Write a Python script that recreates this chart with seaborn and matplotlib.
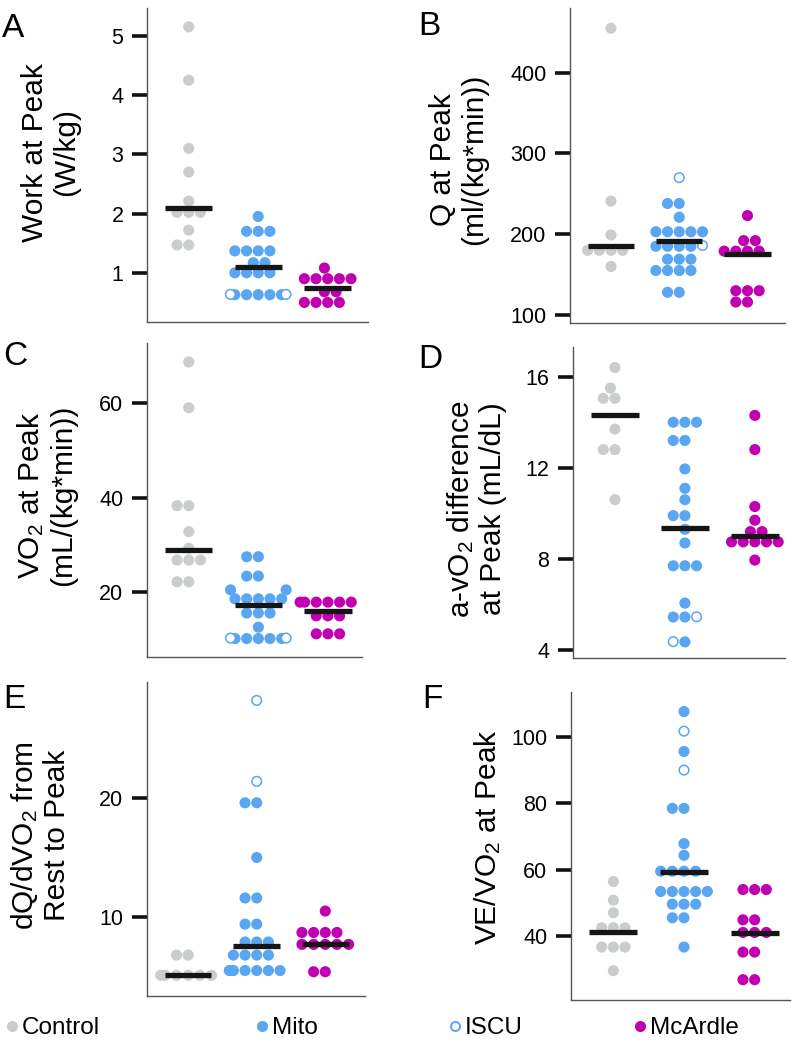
import matplotlib
matplotlib.use("Agg")
import matplotlib.pyplot as plt
import numpy as np
import pandas as pd
import seaborn as sns
from matplotlib.colors import to_rgba
from matplotlib.lines import Line2D

GROUPS = ["Control", "Mito", "McArdle"]
STATUS = ["Control", "Mito", "ISCU", "McArdle"]
PALETTE = {"Control": "#c9cecb", "Mito": "#5aa6f2",
           "ISCU": "#ffffff", "McArdle": "#c100b2"}

# A: work at peak (W/kg)
work_control = [5.15, 4.25, 3.1, 2.7, 2.21, 2.02, 2.02, 2.02, 1.72, 1.47, 1.47]
work_mito = [1.95, 1.7, 1.7, 1.7, 1.37, 1.37, 1.37, 1.37, 1.17, 1.17,
             1.0, 1.0, 1.0, 1.0, 0.63, 0.63, 0.63, 0.63, 0.63]
work_iscu = [0.635, 0.635]
work_mcardle = [1.08, 0.9, 0.9, 0.9, 0.9, 0.9, 0.68, 0.68, 0.5, 0.5, 0.5, 0.5]
work_medians = [2.1, 1.1, 0.75]

# B: cardiac output at peak
q_control = [455, 241, 199, 180, 180, 180, 180, 160]
q_mito = [238, 238, 221, 203, 203, 203, 203, 203, 185, 185, 185, 185,
          169, 169, 169, 155, 155, 155, 155, 128, 128]
q_iscu = [270, 186]
q_mcardle = [223, 192, 192, 179, 179, 179, 179, 130, 130, 130, 116, 116]
q_medians = [185, 191, 175]

# C: VO2 at peak
vo2_control = [68.7, 59, 38.3, 38.3, 32.8, 29.3, 26.8, 26.8, 26.8, 22.2, 22.2]
vo2_mito = [27.5, 27.5, 23.4, 23.4, 20.5, 20.5, 18.6, 18.6, 18.6, 18.6, 18.6,
            15.6, 15.6, 15.6, 12.6, 10.2, 10.2, 10.2, 10.2, 10.2]
vo2_iscu = [10.3, 10.3]
vo2_mcardle = [17.9, 17.9, 17.9, 17.9, 17.9, 17.9, 15.0, 15.0, 15.0,
               11.2, 11.2, 11.2]
vo2_medians = [29, 17.3, 16.1]

# D: a-vO2 difference at peak
avo2_control = [16.4, 15.5, 15.05, 15.05, 13.7, 12.8, 12.8, 10.6]
avo2_mito = [14.0, 14.0, 14.0, 13.2, 13.2, 11.95, 11.1, 10.6, 9.9, 9.9, 9.3,
             8.7, 7.7, 7.7, 7.7, 6.06, 5.45, 5.45, 4.36]
avo2_iscu = [5.46, 4.37]
avo2_mcardle = [14.3, 12.8, 10.3, 9.7, 9.2, 9.2, 8.75, 8.75, 8.75, 8.75,
                8.75, 7.95]
avo2_medians = [14.3, 9.36, 9.0]

# E: dQ/dVO2 from rest to peak
dq_control = [6.8, 6.8, 5.1, 5.1, 5.1, 5.1, 5.1, 5.1]
dq_mito = [19.6, 19.6, 15.0, 11.6, 11.6, 9.4, 9.4, 7.9, 7.9, 7.9,
           6.8, 6.8, 6.8, 6.8, 5.5, 5.5, 5.5, 5.5, 5.5, 5.5]
dq_iscu = [28.2, 21.4]
dq_mcardle = [10.5, 8.7, 8.7, 8.7, 8.7, 7.7, 7.7, 7.7, 7.7, 7.7, 5.4, 5.4]
dq_medians = [5.1, 7.6, 7.7]

# F: VE/VO2 at peak
ve_control = [56.5, 50.9, 47.1, 42.6, 42.6, 42.6, 36.8, 36.8, 36.8, 29.7]
ve_mito = [107.6, 95.6, 78.5, 78.5, 67.9, 64.4, 59.6, 59.6, 59.6, 59.6,
           53.5, 53.5, 53.5, 53.5, 53.5, 49.7, 49.7, 49.7, 45.6, 45.6, 36.8]
ve_iscu = [101.7, 90]
ve_mcardle = [54.1, 54.1, 54.1, 45, 45, 41.2, 41.2, 41.2, 35.3, 35.3, 27, 27]
ve_medians = [41.2, 59.4, 40.9]

PANELS = [
    ("A", (work_control, work_mito, work_iscu, work_mcardle), work_medians,
     "Work at Peak\n(W/kg)", [1, 2, 3, 4, 5], (0.17, 5.47)),
    ("B", (q_control, q_mito, q_iscu, q_mcardle), q_medians,
     "Q at Peak\n(ml/(kg*min))", [100, 200, 300, 400], (90, 480)),
    ("C", (vo2_control, vo2_mito, vo2_iscu, vo2_mcardle), vo2_medians,
     "VO$_2$ at Peak\n(mL/(kg*min))", [20, 40, 60], (6.3, 72.7)),
    ("D", (avo2_control, avo2_mito, avo2_iscu, avo2_mcardle), avo2_medians,
     "a-vO$_2$ difference\nat Peak (mL/dL)", [4, 8, 12, 16], (3.65, 17.3)),
    ("E", (dq_control, dq_mito, dq_iscu, dq_mcardle), dq_medians,
     "dQ/dVO$_2$ from\nRest to Peak", [10, 20], (3.36, 29.75)),
    ("F", (ve_control, ve_mito, ve_iscu, ve_mcardle), ve_medians,
     "VE/VO$_2$ at Peak", [40, 60, 80, 100], (20.9, 113.5)),
]

# layout (figure fractions / axes fractions)
AX_RECTS = {
    "A": [0.1847, 0.6922, 0.2776, 0.3002],
    "B": [0.7161, 0.6912, 0.2701, 0.3011],
    "C": [0.1847, 0.3719, 0.2701, 0.3002],
    "D": [0.7198, 0.3709, 0.2663, 0.2973],
    "E": [0.1847, 0.0478, 0.2739, 0.3002],
    "F": [0.7173, 0.0440, 0.2751, 0.2945],
}
XMAX = {"A": 2.58, "B": 2.55, "C": 2.49, "D": 2.43, "E": 2.58, "F": 2.5}
LABEL_XY = {"A": (-0.303, 0.54), "B": (-0.381, 0.52), "C": (-0.326, 0.515),
            "D": (-0.31, 0.48), "E": (-0.349, 0.51), "F": (-0.31, 0.53)}
LETTER_XY = {"A": (0.0025, 0.9646), "B": (0.525, 0.9665), "C": (0.004, 0.651),
             "D": (0.525, 0.648), "E": (0.004, 0.323), "F": (0.530, 0.323)}


def set_style():
    sns.set_theme(style="ticks", rc={
        "figure.facecolor": "white",
        "text.color": "black",
        "axes.labelcolor": "black",
        "ytick.color": "black",
    })
    plt.rcParams["font.family"] = ["Liberation Sans", "DejaVu Sans"]
    plt.rcParams["mathtext.fontset"] = "custom"
    plt.rcParams["mathtext.rm"] = "Liberation Sans"
    plt.rcParams["mathtext.default"] = "regular"


def long_frame(control, mito, iscu, mcardle):
    rows = ([("Control", "Control", v) for v in control]
            + [("Mito", "Mito", v) for v in mito]
            + [("Mito", "ISCU", v) for v in iscu]
            + [("McArdle", "McArdle", v) for v in mcardle])
    return pd.DataFrame(rows, columns=["group", "status", "value"])


def draw_panel(ax, key, series, medians, ylabel, yticks, ylim):
    df = long_frame(*series)
    sns.swarmplot(data=df, x="group", y="value", hue="status",
                  order=GROUPS, hue_order=STATUS, palette=PALETTE,
                  size=6.9, linewidth=1.1, legend=False, warn_thresh=1,
                  ax=ax)
    # open circles for ISCU: white face, blue ring
    for coll in ax.collections:
        fc = coll.get_facecolors()
        ec = fc.copy()
        white = np.all(fc[:, :3] > 0.99, axis=1)
        ec[white] = to_rgba(PALETTE["Mito"])
        coll.set_edgecolors(ec)

    pos = np.arange(len(GROUPS))
    ax.hlines(medians, pos - 0.34, pos + 0.34, color="#151515", lw=3.8,
              zorder=5)

    ax.set_xlim(-0.6, XMAX[key])
    ax.set_ylim(*ylim)
    ax.set_yticks(yticks)
    ax.set_xticks([])
    ax.set_xlabel("")
    ax.set_ylabel(ylabel, fontsize=21.5, linespacing=1.15)
    ax.yaxis.set_label_coords(*LABEL_XY[key])
    ax.tick_params(axis="y", length=11, width=2.6, color="#111111",
                   labelcolor="black", pad=6, labelsize=15.5)
    sns.despine(ax=ax)
    for side in ("left", "bottom"):
        ax.spines[side].set_color("#555555")
        ax.spines[side].set_linewidth(1.0)


set_style()
fig = plt.figure(figsize=(7.96, 10.46), dpi=100)

for key, series, medians, ylabel, yticks, ylim in PANELS:
    ax = fig.add_axes(AX_RECTS[key])
    draw_panel(ax, key, series, medians, ylabel, yticks, ylim)
    fig.text(*LETTER_XY[key], key, fontsize=24, ha="left", va="baseline")

# legend row along the bottom
legend_x = [0.0075, 0.322, 0.564, 0.797]
for status, x in zip(STATUS, legend_x):
    if status == "ISCU":
        handle = Line2D([], [], ls="", marker="o", markersize=6.5,
                        markerfacecolor="white", markeredgewidth=1.4,
                        markeredgecolor=PALETTE["Mito"])
    else:
        handle = Line2D([], [], ls="", marker="o", markersize=8,
                        markerfacecolor=PALETTE[status], markeredgewidth=0)
    fig.legend([handle], [status], loc="center left",
               bbox_to_anchor=(x, 0.0172), frameon=False, fontsize=17.5,
               handlelength=0.5, handletextpad=0.15, borderpad=0,
               borderaxespad=0)

fig.savefig("out.png", dpi=100, facecolor="white")
